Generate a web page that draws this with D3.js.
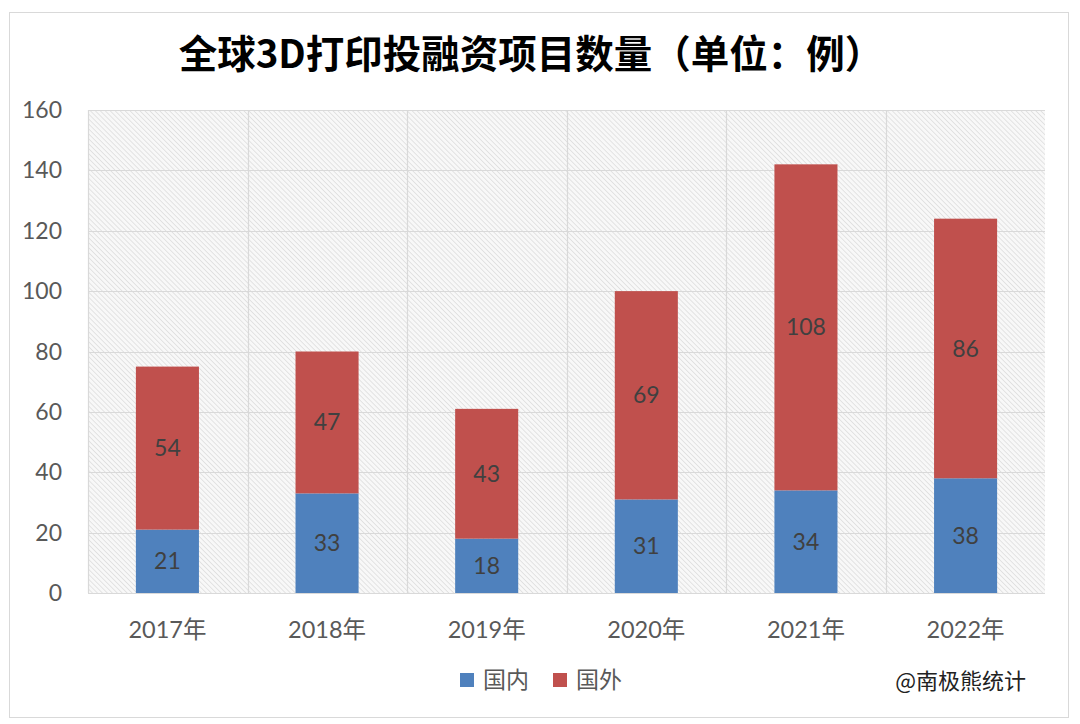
<!DOCTYPE html>
<html lang="zh">
<head>
    <meta charset="UTF-8">
    <title>全球3D打印投融资项目数量</title>
    <style>
        body, html {
            margin: 0;
            padding: 0;
            background: #fff;
        }
        svg text {
            font-family: Lato, "Noto Sans CJK SC", sans-serif;
        }
    </style>
    <script src="https://d3js.org/d3.v7.min.js"></script>
</head>
<body>
    <div id="chart"></div>
    <script>
        const years = ["2017年", "2018年", "2019年", "2020年", "2021年", "2022年"];
        const domestic = [21, 33, 18, 31, 34, 38];
        const foreign = [54, 47, 43, 69, 108, 86];
        const seriesNames = ["国内", "国外"];
        const yTicks = [0, 20, 40, 60, 80, 100, 120, 140, 160];

        const width = 1080, height = 724;
        const margin = {left: 88, right: 35, top: 110, bottom: 131};
        const colors = {"国内": "#4f81bd", "国外": "#c0504d"};

        const svg = d3.select("#chart").append("svg")
            .attr("width", width)
            .attr("height", height);

        // hatched plot background
        const defs = svg.append("defs");
        const pat = defs.append("pattern")
            .attr("id", "hatch")
            .attr("patternUnits", "userSpaceOnUse")
            .attr("width", 3.5)
            .attr("height", 3.5)
            .attr("patternTransform", "rotate(45)");
        pat.append("rect").attr("width", 3.5).attr("height", 3.5).attr("fill", "#f8f8f8");
        pat.append("line")
            .attr("x1", 0).attr("y1", 0).attr("x2", 3.5).attr("y2", 0)
            .attr("stroke", "#d8d8d8").attr("stroke-width", 1.3);

        // outer chart frame
        svg.append("rect")
            .attr("x", 9.5).attr("y", 12.5)
            .attr("width", 1059).attr("height", 705)
            .attr("fill", "#fff")
            .attr("stroke", "#d9d9d9");

        svg.append("text")
            .attr("x", 531)
            .attr("y", 68)
            .attr("text-anchor", "middle")
            .style("font-family", "'Noto Sans CJK SC', sans-serif")
            .style("font-size", "38.5px")
            .style("font-weight", "bold")
            .attr("fill", "#000")
            .text("全球3D打印投融资项目数量（单位：例）");

        const x = d3.scaleBand()
            .domain(years)
            .range([margin.left, width - margin.right])
            .paddingInner(0.605)
            .paddingOuter(0.3);

        const y = d3.scaleLinear()
            .domain([0, 160])
            .range([height - margin.bottom, margin.top]);

        svg.append("rect")
            .attr("x", margin.left)
            .attr("y", margin.top)
            .attr("width", width - margin.right - margin.left)
            .attr("height", y(0) - margin.top)
            .attr("fill", "url(#hatch)");

        // horizontal gridlines
        svg.append("g")
            .selectAll("line")
            .data(yTicks)
            .join("line")
            .attr("x1", margin.left)
            .attr("x2", width - margin.right)
            .attr("y1", d => Math.round(y(d)) + 0.5)
            .attr("y2", d => Math.round(y(d)) + 0.5)
            .attr("stroke", "#d9d9d9")
            .attr("stroke-width", 1.2);

        // vertical gridlines at category boundaries
        const bounds = d3.range(years.length).map(i => margin.left + i * (width - margin.right - margin.left) / years.length);
        svg.append("g")
            .selectAll("line")
            .data(bounds)
            .join("line")
            .attr("x1", d => Math.round(d) + 0.5)
            .attr("x2", d => Math.round(d) + 0.5)
            .attr("y1", margin.top)
            .attr("y2", y(0))
            .attr("stroke", "#d9d9d9")
            .attr("stroke-width", 1.2);

        // y axis labels
        svg.append("g")
            .selectAll("text")
            .data(yTicks)
            .join("text")
            .attr("x", 62)
            .attr("y", d => y(d))
            .attr("dy", "0.35em")
            .attr("text-anchor", "end")
            .attr("fill", "#595959")
            .style("font-size", "23px")
            .text(d => d);

        // x axis labels
        svg.append("g")
            .selectAll("text")
            .data(years)
            .join("text")
            .attr("x", d => x(d) + x.bandwidth() / 2)
            .attr("y", 630)
            .attr("dy", "0.35em")
            .attr("text-anchor", "middle")
            .attr("fill", "#595959")
            .style("font-size", "23.5px")
            .text(d => d);

        const rows = years.map((yr, i) => ({year: yr, "国内": domestic[i], "国外": foreign[i]}));
        const stacked = d3.stack().keys(seriesNames)(rows);

        const layers = svg.append("g")
            .selectAll("g")
            .data(stacked)
            .join("g")
            .attr("fill", d => colors[d.key]);

        layers.selectAll("rect")
            .data(d => d)
            .join("rect")
            .attr("x", d => x(d.data.year))
            .attr("y", d => y(d[1]))
            .attr("width", x.bandwidth())
            .attr("height", d => y(d[0]) - y(d[1]));

        layers.selectAll("text")
            .data(d => d)
            .join("text")
            .attr("x", d => x(d.data.year) + x.bandwidth() / 2)
            .attr("y", d => (y(d[0]) + y(d[1])) / 2)
            .attr("dy", "0.35em")
            .attr("text-anchor", "middle")
            .attr("fill", "#404040")
            .style("font-size", "23px")
            .text(d => d[1] - d[0]);

        // legend
        const legend = svg.append("g");
        const legX = [460, 553];
        seriesNames.forEach((name, i) => {
            const row = legend.append("g").attr("transform", `translate(${legX[i]}, 673)`);
            row.append("rect")
                .attr("width", 14)
                .attr("height", 14)
                .attr("fill", colors[name]);
            row.append("text")
                .attr("x", 23)
                .attr("y", 7)
                .attr("dy", "0.35em")
                .attr("fill", "#595959")
                .style("font-size", "23px")
                .text(name);
        });

        svg.append("text")
            .attr("x", 1026)
            .attr("y", 681)
            .attr("dy", "0.35em")
            .attr("text-anchor", "end")
            .attr("fill", "#222")
            .style("font-family", "'Noto Sans CJK SC', sans-serif")
            .style("font-size", "22px")
            .text("@南极熊统计");
    </script>
</body>
</html>
